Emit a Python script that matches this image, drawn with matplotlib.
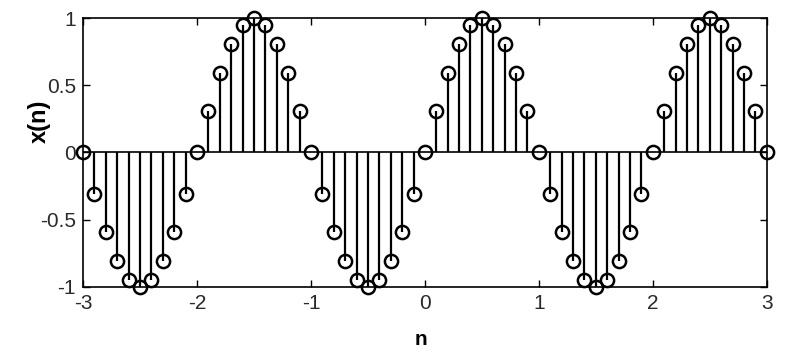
import matplotlib
matplotlib.use('Agg')
import matplotlib.pyplot as plt

n = [-3.0, -2.9, -2.8, -2.7, -2.6, -2.5, -2.4, -2.3, -2.2, -2.1,
     -2.0, -1.9, -1.8, -1.7, -1.6, -1.5, -1.4, -1.3, -1.2, -1.1,
     -1.0, -0.9, -0.8, -0.7, -0.6, -0.5, -0.4, -0.3, -0.2, -0.1,
     0.0, 0.1, 0.2, 0.3, 0.4, 0.5, 0.6, 0.7, 0.8, 0.9,
     1.0, 1.1, 1.2, 1.3, 1.4, 1.5, 1.6, 1.7, 1.8, 1.9,
     2.0, 2.1, 2.2, 2.3, 2.4, 2.5, 2.6, 2.7, 2.8, 2.9, 3.0]
x = [0.0, -0.31, -0.59, -0.81, -0.95, -1.0, -0.95, -0.81, -0.59, -0.31,
     0.0, 0.31, 0.59, 0.81, 0.95, 1.0, 0.95, 0.81, 0.59, 0.31,
     0.0, -0.31, -0.59, -0.81, -0.95, -1.0, -0.95, -0.81, -0.59, -0.31,
     0.0, 0.31, 0.59, 0.81, 0.95, 1.0, 0.95, 0.81, 0.59, 0.31,
     0.0, -0.31, -0.59, -0.81, -0.95, -1.0, -0.95, -0.81, -0.59, -0.31,
     0.0, 0.31, 0.59, 0.81, 0.95, 1.0, 0.95, 0.81, 0.59, 0.31, 0.0]
xticks = [-3, -2, -1, 0, 1, 2, 3]
yticks = [-1, -0.5, 0, 0.5, 1]
ytick_labels = ['-1', '-0.5', '0', '0.5', '1']

plt.rcParams['font.family'] = ['Liberation Sans', 'DejaVu Sans']
plt.rcParams['axes.unicode_minus'] = False

fig = plt.figure(figsize=(7.86, 3.53), dpi=100)
ax = fig.add_axes([0.1056, 0.187, 0.870, 0.762])

markerline, stemlines, baseline = ax.stem(n, x, linefmt='k-', markerfmt='ko', basefmt='k-')
markerline.set_markerfacecolor('none')
markerline.set_markeredgecolor('black')
markerline.set_markersize(9.5)
markerline.set_markeredgewidth(1.8)
markerline.set_clip_on(False)
stemlines.set_linewidth(1.6)
baseline.set_linewidth(1.2)

ax.set_xlim(-3, 3)
ax.set_ylim(-1, 1)
ax.set_xticks(xticks)
ax.set_yticks(yticks)
ax.set_yticklabels(ytick_labels)
ax.tick_params(direction='in', top=True, right=True, length=5, width=1,
               labelsize=15, colors='black', labelcolor='#2a2a2a', pad=5)
for s in ax.spines.values():
    s.set_linewidth(1.2)

ax.set_xlabel('n', fontsize=15, fontweight='bold')
ax.set_ylabel('x(n)', fontsize=17, fontweight='bold')
ax.xaxis.set_label_coords(0.494, -0.16)
ax.yaxis.set_label_coords(-0.047, 0.617)

fig.savefig('out.png', dpi=100)
